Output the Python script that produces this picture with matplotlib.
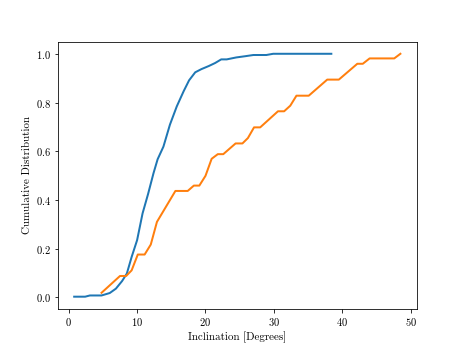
import matplotlib
matplotlib.use("Agg")
import matplotlib.pyplot as plt

# Blue series (inclination in degrees, cumulative fraction)
blue_x = [0.8, 2.4, 3.1, 4.8, 6.0, 6.9, 7.8, 8.5, 9.2, 10.0, 10.8, 11.6, 12.4,
          13.0, 13.85, 14.8, 15.8, 16.8, 17.6, 18.5, 19.4, 20.5, 21.4, 22.3,
          23.1, 24.5, 25.8, 27.0, 28.9, 29.9, 38.4]
blue_y = [0.003, 0.003, 0.008, 0.008, 0.018, 0.036, 0.067, 0.098, 0.166, 0.235,
          0.345, 0.424, 0.51, 0.567, 0.619, 0.709, 0.784, 0.846, 0.891, 0.924,
          0.937, 0.950, 0.962, 0.977, 0.977, 0.985, 0.990, 0.995, 0.995, 1.0, 1.0]

# Orange series
orange_x = [4.8, 7.5, 8.4, 9.2, 10.1, 11.1, 12.0, 12.9, 15.6, 17.4, 18.3, 19.1,
            20.0, 20.9, 21.8, 22.6, 24.4, 25.4, 26.2, 27.1, 28.0, 30.6, 31.5,
            32.4, 33.3, 35.1, 37.8, 39.5, 42.2, 43.0, 44.0, 47.6, 48.5]
orange_y = [0.019, 0.088, 0.088, 0.111, 0.176, 0.176, 0.217, 0.310, 0.437, 0.437,
            0.459, 0.459, 0.499, 0.569, 0.588, 0.588, 0.632, 0.632, 0.654, 0.698,
            0.698, 0.764, 0.764, 0.787, 0.828, 0.828, 0.894, 0.894, 0.959, 0.959,
            0.981, 0.981, 1.0]

plt.rcParams['font.family'] = 'serif'
plt.rcParams['font.serif'] = ['cmr10', 'DejaVu Serif']
plt.rcParams['mathtext.fontset'] = 'cm'
plt.rcParams['axes.formatter.use_mathtext'] = True

fig, ax = plt.subplots(figsize=(463 / 72, 347 / 72), dpi=72)
ax.plot(blue_x, blue_y, color='#1f77b4', lw=2)
ax.plot(orange_x, orange_y, color='#ff7f0e', lw=2)
ax.set_xlabel('Inclination [Degrees]', fontsize=11)
ax.set_ylabel('Cumulative Distribution', fontsize=11)
ax.tick_params(labelsize=10.5)
fig.savefig('out.png', dpi=72)
